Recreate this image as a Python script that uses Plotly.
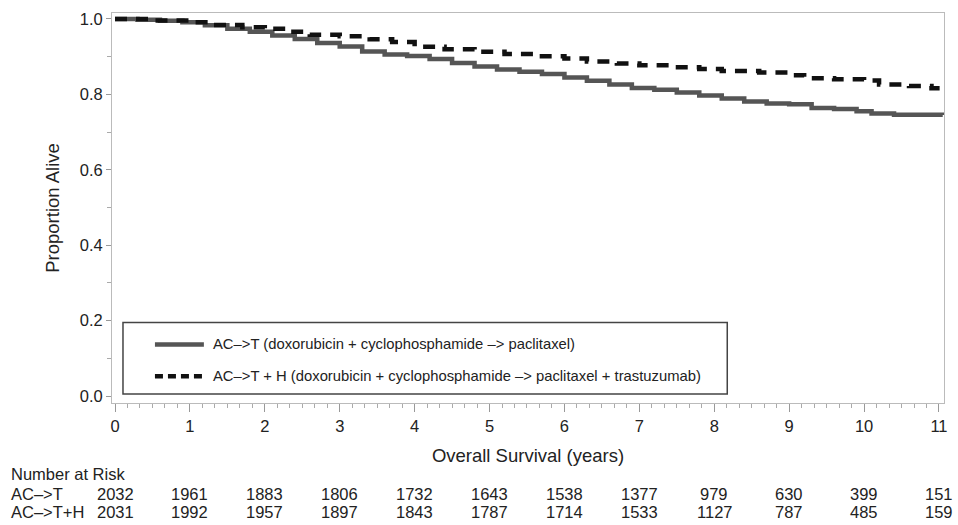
import plotly.graph_objects as go

# Kaplan-Meier estimates (years, proportion alive)
t_act = [0, 0.3, 0.6, 0.9, 1.2, 1.5, 1.8, 2.1, 2.4, 2.7, 3.0, 3.3, 3.6, 3.9, 4.2, 4.5, 4.8,
         5.1, 5.4, 5.7, 6.0, 6.3, 6.6, 6.9, 7.2, 7.5, 7.8, 8.1, 8.4, 8.7, 9.0, 9.3, 9.6,
         9.9, 10.1, 10.4, 11.05]
s_act = [1.0, 0.998, 0.995, 0.991, 0.983, 0.974, 0.966, 0.956, 0.947, 0.936, 0.927, 0.914,
         0.906, 0.902, 0.894, 0.883, 0.874, 0.866, 0.860, 0.854, 0.845, 0.836, 0.826, 0.817,
         0.812, 0.805, 0.797, 0.789, 0.781, 0.776, 0.774, 0.764, 0.761, 0.755, 0.749, 0.746,
         0.745]

t_acth = [0, 0.5, 1.0, 1.3, 1.7, 2.0, 2.3, 2.6, 3.0, 3.4, 3.7, 4.0, 4.4, 4.8, 5.2, 5.6, 6.0,
          6.3, 6.7, 7.0, 7.4, 7.8, 8.1, 8.6, 9.0, 9.2, 9.6, 10.0, 10.2, 10.6, 10.9, 11.05]
s_acth = [1.0, 0.996, 0.991, 0.984, 0.978, 0.974, 0.966, 0.958, 0.954, 0.946, 0.939, 0.926,
          0.920, 0.913, 0.907, 0.901, 0.895, 0.887, 0.882, 0.877, 0.872, 0.867, 0.862, 0.858,
          0.851, 0.843, 0.840, 0.837, 0.826, 0.822, 0.816, 0.815]

# Number at risk table
risk_years = list(range(12))
risk_act = [2032, 1961, 1883, 1806, 1732, 1643, 1538, 1377, 979, 630, 399, 151]
risk_acth = [2031, 1992, 1957, 1897, 1843, 1787, 1714, 1533, 1127, 787, 485, 159]

name_act = "AC–>T (doxorubicin + cyclophosphamide –> paclitaxel)"
name_acth = "AC–>T + H (doxorubicin + cyclophosphamide –> paclitaxel + trastuzumab)"

FONT = "Liberation Sans, Arial, Helvetica, sans-serif"
TEXT = "#222222"
SOLID_COLOR = "#555555"
DASH_COLOR = "#111111"
DASH = "12px,9px"

fig = go.Figure()
fig.add_trace(go.Scatter(x=t_act, y=s_act, mode="lines", line_shape="hv",
                         line=dict(color=SOLID_COLOR, width=4.5), name=name_act,
                         showlegend=False))
fig.add_trace(go.Scatter(x=t_acth, y=s_acth, mode="lines", line_shape="hv",
                         line=dict(color=DASH_COLOR, width=4.5, dash=DASH), name=name_acth,
                         showlegend=False))

# Plot area spans pixels x 112..945, y 10..403
def px_to_paper_x(px):
    return (px - 112) / 833

def py_to_paper(py):
    return (403 - py) / 393

# Framed legend drawn inside the plot area
fig.add_shape(type="rect", xref="paper", yref="paper",
              x0=px_to_paper_x(123), x1=px_to_paper_x(728),
              y0=py_to_paper(394), y1=py_to_paper(322),
              line=dict(color="#444444", width=1.5), fillcolor="white")
legend_rows = [(name_act, SOLID_COLOR, "solid", 344), (name_acth, DASH_COLOR, "8px,5px", 376)]
for label, color, dash, py in legend_rows:
    yp = py_to_paper(py)
    fig.add_shape(type="line", xref="paper", yref="paper",
                  x0=px_to_paper_x(155), x1=px_to_paper_x(204), y0=yp, y1=yp,
                  line=dict(color=color, width=4.5, dash=dash))
    fig.add_annotation(text=label, xref="paper", yref="paper", x=px_to_paper_x(211), y=yp,
                       xanchor="left", yanchor="middle", showarrow=False,
                       font=dict(family=FONT, size=14.8, color=TEXT))

# Number-at-risk table below the axis
fig.add_annotation(text="Number at Risk", xref="paper", yref="paper",
                   x=px_to_paper_x(9), y=py_to_paper(475), xanchor="left", yanchor="middle",
                   showarrow=False, font=dict(family=FONT, size=16.5, color=TEXT))
for label, counts, py in [("AC–>T", risk_act, 495), ("AC–>T+H", risk_acth, 513)]:
    fig.add_annotation(text=label, xref="paper", yref="paper",
                       x=px_to_paper_x(9), y=py_to_paper(py), xanchor="left", yanchor="middle",
                       showarrow=False, font=dict(family=FONT, size=16.5, color=TEXT))
    for yr, n in zip(risk_years, counts):
        fig.add_annotation(text=str(n), xref="x", yref="paper", x=yr, y=py_to_paper(py),
                           xanchor="center", yanchor="middle", showarrow=False,
                           font=dict(family=FONT, size=16.5, color=TEXT))

fig.update_layout(
    width=958, height=525,
    margin=dict(l=112, r=13, t=10, b=122),
    paper_bgcolor="white", plot_bgcolor="white",
    font=dict(family=FONT, size=16.5, color=TEXT),
    showlegend=False,
)
fig.update_xaxes(
    range=[-0.04, 11.067], tickvals=risk_years, ticks="outside", ticklen=8, tickwidth=1,
    tickcolor="#999999", showline=True, linecolor="#bbbbbb", linewidth=1, mirror=True,
    showgrid=False, zeroline=False,
    minor=dict(dtick=1 / 6, tick0=0, ticks="outside", ticklen=4, tickcolor="#aaaaaa"),
    tickfont=dict(family=FONT, size=16.5, color=TEXT),
    title=dict(text="Overall Survival (years)", standoff=15,
               font=dict(family=FONT, size=18.5, color=TEXT)),
)
fig.update_yaxes(
    range=[-0.0184, 1.0158], tickvals=[0, 0.2, 0.4, 0.6, 0.8, 1.0],
    ticktext=["0.0", "0.2", "0.4", "0.6", "0.8", "1.0"],
    ticks="outside", ticklen=5, tickwidth=1, tickcolor="#999999",
    showline=True, linecolor="#bbbbbb", linewidth=1, mirror=True,
    showgrid=False, zeroline=False,
    minor=dict(dtick=0.1, tick0=0, ticks="outside", ticklen=4, tickcolor="#aaaaaa"),
    tickfont=dict(family=FONT, size=16.5, color=TEXT),
    title=dict(text="Proportion Alive", standoff=15,
               font=dict(family=FONT, size=18.5, color=TEXT)),
)

fig.write_html("out.html")
